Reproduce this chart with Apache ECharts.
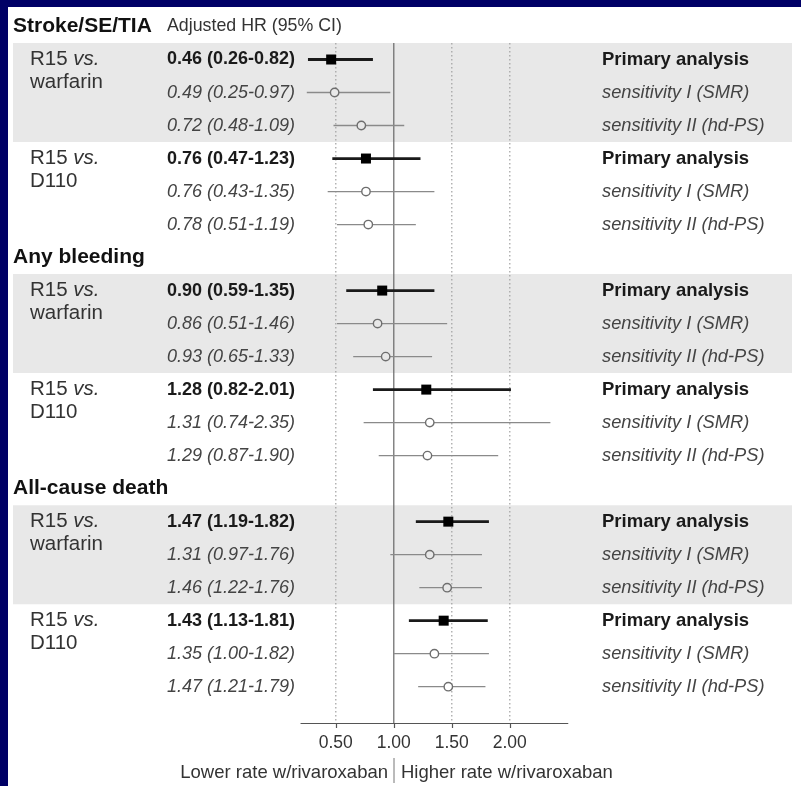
<!DOCTYPE html>
<html>
<head>
<meta charset="utf-8">
<script src="https://cdn.jsdelivr.net/npm/echarts@6/dist/echarts.min.js"></script>
<style>
html,body{margin:0;padding:0;background:#fff;}
#chart{width:801px;height:786px;}
</style>
</head>
<body>
<div id="chart"></div>
<script>
// ---- data ----
const outcomes = ['Stroke/SE/TIA', 'Any bleeding', 'All-cause death'];
const comparisonLine1 = 'R15 ';
const comparisonVs = 'vs.';
const comparisons = ['warfarin', 'D110'];
const analyses = ['Primary analysis', 'sensitivity I (SMR)', 'sensitivity II (hd-PS)'];
const hrEstimate = [0.46, 0.49, 0.72, 0.76, 0.76, 0.78, 0.90, 0.86, 0.93, 1.28, 1.31, 1.29, 1.47, 1.31, 1.46, 1.43, 1.35, 1.47];
const ciLower   = [0.26, 0.25, 0.48, 0.47, 0.43, 0.51, 0.59, 0.51, 0.65, 0.82, 0.74, 0.87, 1.19, 0.97, 1.22, 1.13, 1.00, 1.21];
const ciUpper   = [0.82, 0.97, 1.09, 1.23, 1.35, 1.19, 1.35, 1.46, 1.33, 2.01, 2.35, 1.90, 1.82, 1.76, 1.76, 1.81, 1.82, 1.79];
const tickValues = [0.5, 1.0, 1.5, 2.0];
const refLines = [0.5, 1.0, 1.5, 2.0];
const columnHeader = 'Adjusted HR (95% CI)';
const footerLeft = 'Lower rate w/rivaroxaban';
const footerRight = 'Higher rate w/rivaroxaban';

// ---- layout ----
const FONT = "'Liberation Sans', Arial, Helvetica, sans-serif";
const Y_MIN = 0.5, Y_MAX = 21.1;
const BAND_X0 = 13, BAND_X1 = 792;
const X_HEAD = 13, X_GROUP = 30, X_STAT = 167, X_LABEL = 602;

// build rows
const ciRows = [];   // [row, hr, lo, hi, isPrimary, bandFlag]
const textRows = []; // [row, kind, idx]
const bandRows = []; // [startRow]
let k = 0;
outcomes.forEach((o, oi) => {
  const headRow = oi * 7;
  textRows.push([headRow, 'head', oi]);
  comparisons.forEach((c, ci) => {
    const start = headRow + 1 + ci * 3;
    if (ci === 0) bandRows.push([start]);
    textRows.push([start, 'group', ci]);
    analyses.forEach((a, ai) => {
      const row = start + ai;
      ciRows.push([row, hrEstimate[k], ciLower[k], ciUpper[k], ai === 0 ? 1 : 0, ci === 0 ? 1 : 0]);
      textRows.push([row, 'stat', k]);
      textRows.push([row, 'analysis', ai]);
      k++;
    });
  });
});

const fmt = v => v.toFixed(2);

const chart = echarts.init(document.getElementById('chart'), null, {renderer: 'canvas'});
chart.setOption({
  backgroundColor: '#ffffff',
  animation: false,
  grid: {left: 301, right: 233.2, top: 43, bottom: 63, containLabel: false},
  xAxis: {
    type: 'value', min: 0.2, max: 2.5,
    axisLine: {show: true, lineStyle: {color: '#555', width: 1.2}},
    axisTick: {show: true, customValues: tickValues, length: 5, lineStyle: {color: '#555', width: 1.2}},
    axisLabel: {customValues: tickValues, formatter: v => fmt(v), fontSize: 17.5, color: '#333', margin: 11, fontFamily: FONT},
    splitLine: {show: false}
  },
  yAxis: {type: 'value', inverse: true, min: Y_MIN, max: Y_MAX, show: false},
  series: [
    { // gray bands
      type: 'custom', clip: false, silent: true, z: 1,
      data: bandRows,
      renderItem: (params, api) => {
        const r = api.value(0);
        const y0 = api.coord([1, r - 0.5])[1];
        const y1 = api.coord([1, r + 2.5])[1];
        return {type: 'rect', shape: {x: BAND_X0, y: y0, width: BAND_X1 - BAND_X0, height: y1 - y0},
                style: {fill: '#e8e8e8'}};
      }
    },
    { // reference lines
      type: 'custom', clip: false, silent: true, z: 2,
      data: refLines.map(v => [v]),
      renderItem: (params, api) => {
        const v = api.value(0);
        const p0 = api.coord([v, Y_MIN]);
        const p1 = api.coord([v, Y_MAX]);
        const solid = v === 1;
        return {type: 'line', shape: {x1: p0[0], y1: p0[1], x2: p1[0], y2: p1[1]},
                style: {stroke: solid ? '#666' : '#a0a0a0', lineWidth: 1.2, lineDash: solid ? null : [1.5, 2.5]}};
      }
    },
    { // CI lines and markers
      type: 'custom', clip: false, silent: true, z: 3,
      data: ciRows,
      renderItem: (params, api) => {
        const row = api.value(0), est = api.value(1), lo = api.value(2), hi = api.value(3);
        const primary = api.value(4) === 1;
        const bandFill = api.value(5) === 1 ? '#e8e8e8' : '#ffffff';
        const pl = api.coord([lo, row]), ph = api.coord([hi, row]), pe = api.coord([est, row]);
        const children = [
          {type: 'line', shape: {x1: pl[0], y1: pl[1], x2: ph[0], y2: ph[1]},
           style: {stroke: primary ? '#1a1a1a' : '#8a8a8a', lineWidth: primary ? 2.8 : 1.3}}
        ];
        if (primary) {
          children.push({type: 'rect', shape: {x: pe[0] - 5, y: pe[1] - 5, width: 10, height: 10}, style: {fill: '#000'}});
        } else {
          children.push({type: 'circle', shape: {cx: pe[0], cy: pe[1], r: 4.2}, style: {fill: bandFill, stroke: '#6e6e6e', lineWidth: 1.4}});
        }
        return {type: 'group', children};
      }
    },
    { // texts
      type: 'custom', clip: false, silent: true, z: 4,
      data: textRows.map(t => [t[0], 0, t[2]]),
      renderItem: (params, api) => {
        const t = textRows[params.dataIndex];
        const row = t[0], kind = t[1], idx = t[2];
        const y = api.coord([1, row])[1];
        if (kind === 'head') {
          const els = [{type: 'text', style: {x: X_HEAD, y: y, text: outcomes[idx], fontFamily: FONT, fontSize: 21, fontWeight: 'bold', fill: '#111', verticalAlign: 'middle', align: 'left'}}];
          if (idx === 0) els.push({type: 'text', style: {x: X_STAT, y: y, text: columnHeader, fontFamily: FONT, fontSize: 17.8, fill: '#333', verticalAlign: 'middle', align: 'left'}});
          return {type: 'group', children: els};
        }
        if (kind === 'group') {
          return {type: 'group', children: [
            {type: 'text', style: {x: X_GROUP, y: y, text: '{n|' + comparisonLine1 + '}{i|' + comparisonVs + '}\n{n|' + comparisons[idx] + '}',
              fontFamily: FONT, fontSize: 20.5, fill: '#333', verticalAlign: 'top', align: 'left', lineHeight: 23,
              rich: {n: {fontFamily: FONT, fontSize: 20.5, fill: '#333', lineHeight: 23}, i: {fontFamily: FONT, fontSize: 20.5, fontStyle: 'italic', fill: '#333', lineHeight: 23}}},
              y: -11.5}
          ]};
        }
        if (kind === 'stat') {
          const primary = (idx % 3) === 0;
          const txt = fmt(hrEstimate[idx]) + ' (' + fmt(ciLower[idx]) + '-' + fmt(ciUpper[idx]) + ')';
          return {type: 'text', style: {x: X_STAT, y: y, text: txt, fontFamily: FONT, fontSize: 18,
            fontWeight: primary ? 'bold' : 'normal', fontStyle: primary ? 'normal' : 'italic',
            fill: primary ? '#1a1a1a' : '#444', verticalAlign: 'middle', align: 'left'}};
        }
        const primary = idx === 0;
        return {type: 'text', style: {x: X_LABEL, y: y, text: analyses[idx], fontFamily: FONT, fontSize: primary ? 18.5 : 18.3,
          fontWeight: primary ? 'bold' : 'normal', fontStyle: primary ? 'normal' : 'italic',
          fill: primary ? '#1a1a1a' : '#444', verticalAlign: 'middle', align: 'left'}};
      }
    }
  ],
  graphic: [
    {type: 'rect', left: 0, top: 0, shape: {x: 0, y: 0, width: 801, height: 7}, style: {fill: '#000066'}, z: 100},
    {type: 'rect', left: 0, top: 0, shape: {x: 0, y: 0, width: 8, height: 786}, style: {fill: '#000066'}, z: 100},
    {type: 'text', x: 388, y: 773, style: {text: footerLeft, fontFamily: FONT, fontSize: 18.5, fill: '#333', align: 'right', verticalAlign: 'middle'}},
    {type: 'text', x: 401, y: 773, style: {text: footerRight, fontFamily: FONT, fontSize: 18.5, fill: '#333', align: 'left', verticalAlign: 'middle'}},
    {type: 'line', shape: {x1: 394, y1: 758, x2: 394, y2: 783}, style: {stroke: '#777', lineWidth: 1}}
  ]
});
</script>
</body>
</html>
